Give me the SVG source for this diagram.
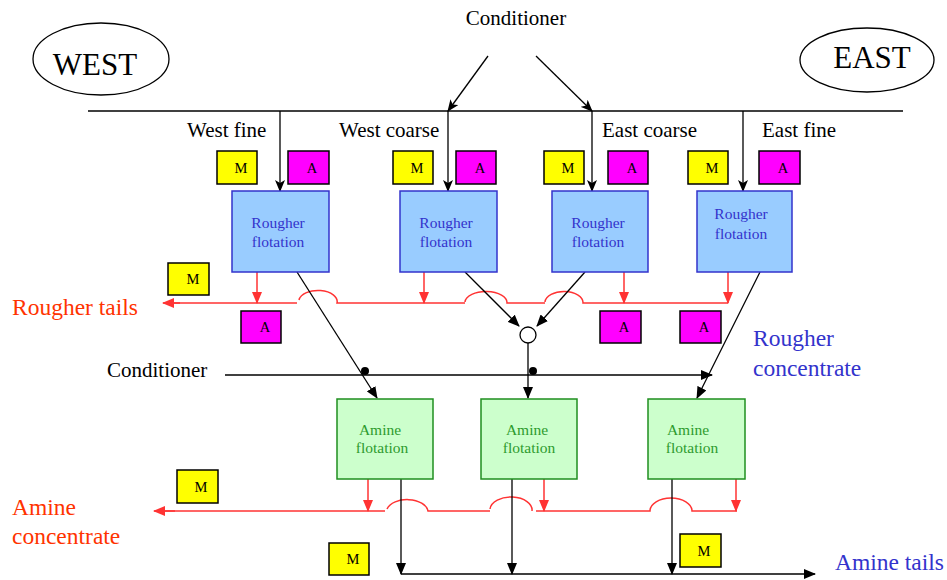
<svg xmlns="http://www.w3.org/2000/svg" width="947" height="580" viewBox="0 0 947 580" font-family="'Liberation Serif', 'Times New Roman', Times, serif">
<defs>
<style>
text{font-family:'Liberation Serif','Times New Roman',Times,serif;fill:#000}
.lbl{font-size:21px}
.big{font-size:31px}
.side{font-size:23.5px}
.red{fill:#FF3300}
.blue{fill:#3333CC}
.grn{fill:#2E9B2E}
.tag{font-size:14.5px;text-anchor:middle}
.bx{font-size:15.5px;text-anchor:middle}
.m{fill:#FFFF00;stroke:#000;stroke-width:1.5}
.a{fill:#FF00FF;stroke:#000;stroke-width:1.5}
.rf{fill:#99CCFF;stroke:#3333CC;stroke-width:1.5}
.af{fill:#CCFFCC;stroke:#1F8F1F;stroke-width:1.5}
.k{stroke:#000;stroke-width:1.3;fill:none}
.r{stroke:#FF3333;stroke-width:1.5;fill:none}
</style>
<marker id="ak" viewBox="0 0 12 10" refX="11" refY="5" markerWidth="12" markerHeight="10" markerUnits="userSpaceOnUse" orient="auto">
<path d="M0,0 L12,5 L0,10 L3,5 z" fill="#000"/>
</marker>
<marker id="at" viewBox="0 0 12 10" refX="11" refY="5" markerWidth="12" markerHeight="10" markerUnits="userSpaceOnUse" orient="auto">
<path d="M0,0 L12,5 L0,10 z" fill="#000"/>
</marker>
<marker id="ar" viewBox="0 0 12 10" refX="11" refY="5" markerWidth="12" markerHeight="10" markerUnits="userSpaceOnUse" orient="auto">
<path d="M0,0 L12,5 L0,10 z" fill="#FF3333"/>
</marker>
</defs>
<rect width="947" height="580" fill="#fff"/>

<g id="west">
<ellipse cx="101" cy="59" rx="68" ry="36" fill="#fff" stroke="#000" stroke-width="1.3"/>
<text class="big" x="95" y="75" text-anchor="middle">WEST</text>
</g>
<g id="east">
<ellipse cx="867" cy="60" rx="67" ry="32" fill="#fff" stroke="#000" stroke-width="1.3"/>
<text class="big" x="872" y="68" text-anchor="middle">EAST</text>
</g>

<g id="labels">
<text class="lbl" x="516" y="25" text-anchor="middle">Conditioner</text>
<text class="lbl" x="187" y="137">West fine</text>
<text class="lbl" x="339" y="137">West coarse</text>
<text class="lbl" x="602" y="137">East coarse</text>
<text class="lbl" x="762" y="137">East fine</text>
<text class="lbl" x="107" y="377">Conditioner</text>
<text class="side red" x="12" y="315">Rougher tails</text>
<text class="side blue" x="753" y="346">Rougher</text>
<text class="side blue" x="753" y="376">concentrate</text>
<text class="side red" x="12" y="515">Amine</text>
<text class="side red" x="12" y="544">concentrate</text>
<text class="side blue" x="835" y="570">Amine tails</text>
</g>

<g id="connectors">
<path class="k" d="M88 111 H903"/>
<path class="k" d="M488 56 L448 111" marker-end="url(#ak)"/>
<path class="k" d="M536 56 L592 111" marker-end="url(#ak)"/>
<path class="k" d="M280 111 V191" marker-end="url(#ak)"/>
<path class="k" d="M448 111 V191" marker-end="url(#ak)"/>
<path class="k" d="M592 111 V191" marker-end="url(#ak)"/>
<path class="k" d="M743 111 V191" marker-end="url(#ak)"/>

<path class="r" d="M165 303 H297 M299 300 A19 11 0 0 1 337 303 H465 M465 302 A21 11 0 0 1 507 303 H545 M545 302 A19 11 0 0 1 583 303 H728"/>
<path class="r" d="M180 303 H163" marker-end="url(#ar)"/>
<path class="r" d="M257 272 V303" marker-end="url(#ar)"/>
<path class="r" d="M424 272 V303" marker-end="url(#ar)"/>
<path class="r" d="M624 272 V303" marker-end="url(#ar)"/>
<path class="r" d="M728 272 V303" marker-end="url(#ar)"/>

<path class="k" d="M297 272 L377 398" marker-end="url(#at)"/>
<path class="k" d="M465 272 L519 326" marker-end="url(#at)"/>
<path class="k" d="M585 272 L537 326" marker-end="url(#at)"/>
<path class="k" d="M760 272 L697 398" marker-end="url(#at)"/>
<path class="k" d="M528 343 V398" marker-end="url(#at)"/>
<path class="k" d="M225 375 H712" marker-end="url(#at)"/>
<circle cx="528" cy="335" r="8" fill="#fff" stroke="#000" stroke-width="1.3"/>
<circle cx="365" cy="371" r="4" fill="#000"/>
<circle cx="533" cy="371" r="4" fill="#000"/>

<path class="r" d="M160 511 H385 M387 509 A21 13 0 0 1 428 511 H490 M490 509 A21 13 0 0 1 532 511 M536 511 H650 A21 13 0 0 1 692 511 H737"/>
<path class="r" d="M175 511 H154" marker-end="url(#ar)"/>
<path class="r" d="M368 479 V511" marker-end="url(#ar)"/>
<path class="r" d="M544 479 V511" marker-end="url(#ar)"/>
<path class="r" d="M736 479 V511" marker-end="url(#ar)"/>

<path class="k" d="M401 479 V574" marker-end="url(#at)"/>
<path class="k" d="M512 479 V574" marker-end="url(#at)"/>
<path class="k" d="M672 479 V574" marker-end="url(#at)"/>
<path class="k" d="M401 574 H815" marker-end="url(#at)"/>
</g>

<g id="tags">
<rect class="m" x="217" y="151" width="40" height="33"/><text class="tag" x="241" y="173">M</text>
<rect class="a" x="288" y="151" width="41" height="33"/><text class="tag" x="312" y="173">A</text>
<rect class="m" x="393" y="151" width="40" height="33"/><text class="tag" x="417" y="173">M</text>
<rect class="a" x="456" y="151" width="40" height="33"/><text class="tag" x="480" y="173">A</text>
<rect class="m" x="544" y="151" width="40" height="33"/><text class="tag" x="568" y="173">M</text>
<rect class="a" x="608" y="151" width="40" height="33"/><text class="tag" x="632" y="173">A</text>
<rect class="m" x="688" y="151" width="40" height="33"/><text class="tag" x="712" y="173">M</text>
<rect class="a" x="759" y="151" width="41" height="33"/><text class="tag" x="783" y="173">A</text>
<rect class="m" x="168" y="263" width="41" height="32"/><text class="tag" x="193" y="284">M</text>
<rect class="a" x="241" y="311" width="40" height="32"/><text class="tag" x="265" y="332">A</text>
<rect class="a" x="600" y="311" width="41" height="32"/><text class="tag" x="624" y="332">A</text>
<rect class="a" x="680" y="311" width="41" height="32"/><text class="tag" x="704" y="332">A</text>
<rect class="m" x="177" y="470" width="41" height="33"/><text class="tag" x="201" y="492">M</text>
<rect class="m" x="329" y="543" width="40" height="32"/><text class="tag" x="353" y="564">M</text>
<rect class="m" x="680" y="534" width="41" height="33"/><text class="tag" x="704" y="556">M</text>
</g>

<g id="rougher-wf">
<rect class="rf" x="232" y="191" width="97" height="81"/>
<text class="bx blue" x="278" y="228">Rougher</text>
<text class="bx blue" x="278" y="247">flotation</text>
</g>
<g id="rougher-wc">
<rect class="rf" x="400" y="191" width="97" height="81"/>
<text class="bx blue" x="446" y="228">Rougher</text>
<text class="bx blue" x="446" y="247">flotation</text>
</g>
<g id="rougher-ec">
<rect class="rf" x="552" y="191" width="96" height="81"/>
<text class="bx blue" x="598" y="228">Rougher</text>
<text class="bx blue" x="598" y="247">flotation</text>
</g>
<g id="rougher-ef">
<rect class="rf" x="697" y="191" width="95" height="81"/>
<text class="bx blue" x="741" y="219">Rougher</text>
<text class="bx blue" x="741" y="239">flotation</text>
</g>

<g id="amine-1">
<rect class="af" x="337" y="399" width="96" height="80"/>
<text class="bx grn" x="380" y="435">Amine</text>
<text class="bx grn" x="382" y="453">flotation</text>
</g>
<g id="amine-2">
<rect class="af" x="481" y="399" width="96" height="80"/>
<text class="bx grn" x="527" y="435">Amine</text>
<text class="bx grn" x="529" y="453">flotation</text>
</g>
<g id="amine-3">
<rect class="af" x="648" y="399" width="97" height="80"/>
<text class="bx grn" x="688" y="435">Amine</text>
<text class="bx grn" x="692" y="453">flotation</text>
</g>
</svg>
